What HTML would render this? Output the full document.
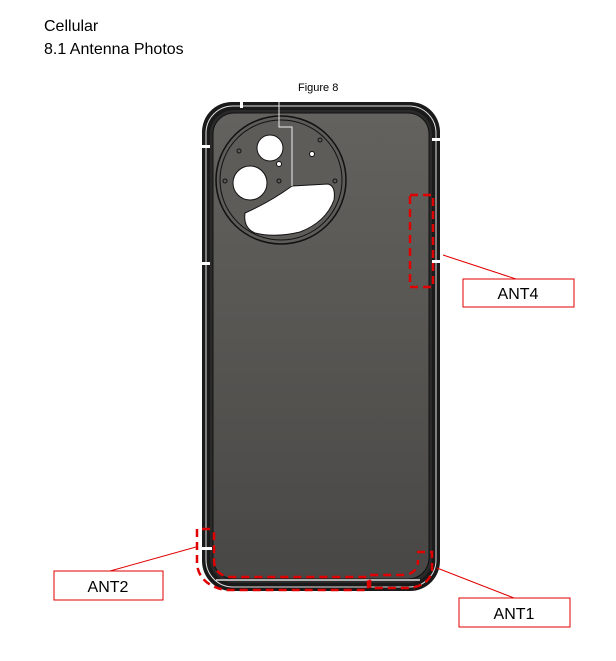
<!DOCTYPE html>
<html><head><meta charset="utf-8"><style>
html,body{margin:0;padding:0;background:#fff;}
svg{display:block;}
text{font-family:"Liberation Sans",sans-serif;fill:#000;}
</style></head><body>
<svg width="616" height="661" viewBox="0 0 616 661" xmlns="http://www.w3.org/2000/svg">
<defs>
<linearGradient id="g" x1="0" y1="0" x2="0" y2="1">
<stop offset="0" stop-color="#64625e"/><stop offset="0.5" stop-color="#575552"/><stop offset="1" stop-color="#484745"/>
</linearGradient>
</defs>
<text x="44" y="31" font-size="16">Cellular</text>
<text x="44" y="54" font-size="16">8.1 Antenna Photos</text>
<text x="298" y="91" font-size="11">Figure 8</text>

<rect x="202" y="102" width="238" height="489" rx="30" fill="#1a1a1a"/>
<rect x="206" y="106" width="230" height="481" rx="27" fill="none" stroke="#e0e0e0" stroke-width="1"/>
<rect x="210" y="110" width="222" height="473" rx="24" fill="#2a2a2a"/>
<rect x="213" y="113" width="216" height="466" rx="21" fill="url(#g)" stroke="#111" stroke-width="1"/>
<rect x="240" y="100" width="3" height="8" fill="#fff"/>
<rect x="198" y="145" width="12" height="3" fill="#fff"/>
<rect x="198" y="262" width="12" height="3" fill="#fff"/>
<rect x="432" y="138" width="12" height="3" fill="#fff"/>
<rect x="432" y="260" width="12" height="3" fill="#fff"/>
<rect x="200" y="547" width="12" height="3" fill="#fff"/>
<line x1="216" y1="580" x2="420" y2="580" stroke="#ddd" stroke-width="1.5"/>

<ellipse cx="281" cy="180" rx="65" ry="64" fill="#5e5c58" stroke="#111" stroke-width="1.5"/>
<ellipse cx="281" cy="180" rx="61" ry="60" fill="none" stroke="#111" stroke-width="1"/>
<circle cx="270" cy="148" r="13" fill="#fff" stroke="#111"/>
<circle cx="250" cy="183" r="17" fill="#fff" stroke="#111"/>
<circle cx="279" cy="164" r="2.5" fill="#fff" stroke="#111"/>
<circle cx="312" cy="154" r="2.5" fill="#fff" stroke="#111"/>
<circle cx="239" cy="151" r="2" fill="none" stroke="#111"/>
<circle cx="320" cy="140" r="2" fill="none" stroke="#111"/>
<circle cx="225" cy="181" r="2" fill="none" stroke="#111"/>
<circle cx="279" cy="181" r="2" fill="none" stroke="#111"/>
<circle cx="335" cy="181" r="2" fill="none" stroke="#111"/>
<path d="M245 213 Q270 202 292 186 L328 184 Q336 186 334 200 Q326 222 300 232 Q275 238 255 233 Q243 228 245 213 Z" fill="#fff" stroke="#111"/>
<path d="M279 102 L279 127 L292 127 L292 186" fill="none" stroke="#eee" stroke-width="1"/>

<g fill="none" stroke="#e00000" stroke-width="2.5" stroke-dasharray="8,5">
<rect x="410" y="195" width="23" height="92"/>
<path d="M210 529 L197 529 L197 565 Q200 585 225 590 L368 590 L368 577 L230 577 Q214 575 214 560 L214 529"/>
<path d="M417 552 L432 552 L432 570 Q430 585 410 588 L370 588 L370 575 L405 575 Q418 573 418 560"/>
</g>

<g stroke="#e00000" stroke-width="1">
<line x1="443" y1="255" x2="516" y2="279"/>
<line x1="196" y1="547" x2="110" y2="571"/>
<line x1="437" y1="568" x2="514" y2="598"/>
</g>

<g fill="#fff" stroke="#e00000" stroke-width="1">
<rect x="463" y="279" width="111" height="28"/>
<rect x="54" y="571" width="109" height="29"/>
<rect x="459" y="598" width="111" height="29"/>
</g>
<text x="518" y="299" font-size="16" text-anchor="middle">ANT4</text>
<text x="108" y="592" font-size="16" text-anchor="middle">ANT2</text>
<text x="514" y="619" font-size="16" text-anchor="middle">ANT1</text>
</svg>
</body></html>
